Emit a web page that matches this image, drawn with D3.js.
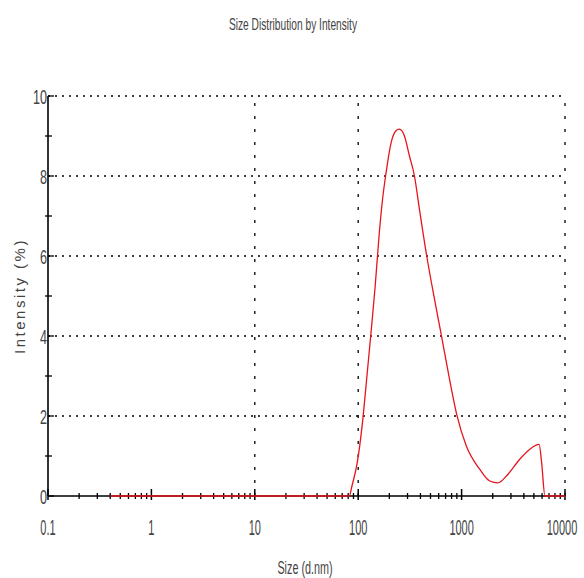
<!DOCTYPE html>
<html>
<head>
<meta charset="utf-8">
<script src="https://cdn.jsdelivr.net/npm/d3@7"></script>
<style>
  body { margin: 0; background: #fff; }
  text { font-family: "Liberation Sans", Arial, sans-serif; fill: #444; }
</style>
</head>
<body>
<script>
// size (d.nm) and intensity (%)
var sizes = [0.4, 82, 87, 98, 110, 119, 133, 146, 160, 172, 186, 208, 232, 250, 280, 313, 350, 391,
             460, 547, 635, 764, 900, 1111, 1496, 1872, 2250, 2715, 3656, 4573, 5623, 5940, 6400, 10000];
var intensity = [0, 0, 0.25, 0.84, 1.84, 2.75, 4.08, 5.25, 6.58, 7.42, 8.08, 8.83, 9.13, 9.17, 9.0, 8.5, 8.0, 7.17,
                 6.0, 4.92, 4.04, 2.92, 2.02, 1.25, 0.67, 0.375, 0.33, 0.5, 0.92, 1.17, 1.29, 0.84, 0, 0];

var xTicks = [0.1, 1, 10, 100, 1000, 10000];
var xTickLabels = ["0.1", "1", "10", "100", "1000", "10000"];
var xGrid = [10, 100, 10000];
var yTicks = [0, 2, 4, 6, 8, 10];
var yGrid = [2, 4, 6, 8, 10];
var yMinor = [1, 3, 5, 7, 9];

var width = 584, height = 578;

var svg = d3.select("body").append("svg")
    .attr("width", width)
    .attr("height", height);

var x = d3.scaleLog().domain([0.1, 10000]).range([48, 565]);
var y = d3.scaleLinear().domain([0, 10]).range([496, 96]);

// squeeze text horizontally, the original uses a very condensed face
function narrow(sel, f) {
  sel.each(function() {
    var w = this.getComputedTextLength();
    d3.select(this).attr("textLength", w * f).attr("lengthAdjust", "spacingAndGlyphs");
  });
}

// minor log ticks 2..9 of every decade
var xMinor = [];
[0.1, 1, 10, 100, 1000].forEach(function(d) {
  for (var k = 2; k <= 9; k++) xMinor.push(d * k);
});

// grid
svg.append("g").selectAll("line")
  .data(yGrid)
  .enter().append("line")
    .attr("x1", x(0.1)).attr("x2", x(10000))
    .attr("y1", function(d) { return y(d); })
    .attr("y2", function(d) { return y(d); })
    .attr("stroke", "#000")
    .attr("stroke-width", 1.3)
    .attr("stroke-dasharray", "2,5");

svg.append("g").selectAll("line")
  .data(xGrid)
  .enter().append("line")
    .attr("x1", function(d) { return x(d); })
    .attr("x2", function(d) { return x(d); })
    .attr("y1", y(0)).attr("y2", y(10))
    .attr("stroke", "#000")
    .attr("stroke-width", 1.3)
    .attr("stroke-dasharray", "3,10");

// axes lines
svg.append("line")
  .attr("x1", x(0.1)).attr("x2", x(0.1))
  .attr("y1", y(0)).attr("y2", y(10))
  .attr("stroke", "#000").attr("stroke-width", 1.6);
svg.append("line")
  .attr("x1", x(0.1)).attr("x2", x(10000))
  .attr("y1", y(0)).attr("y2", y(0))
  .attr("stroke", "#000").attr("stroke-width", 1.6);

// y ticks
svg.append("g").selectAll("line")
  .data(yMinor)
  .enter().append("line")
    .attr("x1", x(0.1) - 3).attr("x2", x(0.1) + 4)
    .attr("y1", function(d) { return y(d); })
    .attr("y2", function(d) { return y(d); })
    .attr("stroke", "#000").attr("stroke-width", 1.3);
svg.append("g").selectAll("line")
  .data(yTicks)
  .enter().append("line")
    .attr("x1", x(0.1)).attr("x2", x(0.1) + 6)
    .attr("y1", function(d) { return y(d); })
    .attr("y2", function(d) { return y(d); })
    .attr("stroke", "#000").attr("stroke-width", 1.3);

svg.append("g").selectAll("text")
  .data(yTicks)
  .enter().append("text")
    .attr("x", x(0.1) - 1)
    .attr("y", function(d) { return y(d) + 8; })
    .attr("text-anchor", "end")
    .style("font-size", "21px")
    .text(function(d) { return d; })
    .call(narrow, 0.6);

// x ticks
svg.append("g").selectAll("line")
  .data(xMinor)
  .enter().append("line")
    .attr("x1", function(d) { return x(d); })
    .attr("x2", function(d) { return x(d); })
    .attr("y1", y(0) - 3).attr("y2", y(0) + 3)
    .attr("stroke", "#000").attr("stroke-width", 1.3);
svg.append("g").selectAll("line")
  .data(xTicks)
  .enter().append("line")
    .attr("x1", function(d) { return x(d); })
    .attr("x2", function(d) { return x(d); })
    .attr("y1", y(0) - 7).attr("y2", y(0) + 4)
    .attr("stroke", "#000").attr("stroke-width", 1.5);

// x labels squeezed with a transform so the box is the drawn one
svg.append("g").selectAll("text")
  .data(xTicks)
  .enter().append("text")
    .attr("transform", function(d) { return "translate(" + Math.min(x(d), 562) + ",535) scale(0.5,1)"; })
    .attr("text-anchor", "middle")
    .style("font-size", "22px")
    .text(function(d, i) { return xTickLabels[i]; });

// curve
var pts = sizes.map(function(s, i) { return [s, intensity[i]]; });
var line = d3.line()
  .x(function(d) { return x(d[0]); })
  .y(function(d) { return y(d[1]); })
  .curve(d3.curveMonotoneX);

svg.append("path")
  .datum(pts)
  .attr("d", line)
  .attr("fill", "none")
  .attr("stroke", "#e8141c")
  .attr("stroke-width", 1.3);

// titles
svg.append("text")
  .attr("x", 293).attr("y", 30)
  .attr("text-anchor", "middle")
  .style("font-size", "17px")
  .text("Size Distribution by Intensity")
  .call(narrow, 0.6);

svg.append("text")
  .attr("x", 305).attr("y", 574)
  .attr("text-anchor", "middle")
  .style("font-size", "18px")
  .text("Size (d.nm)")
  .call(narrow, 0.6);

svg.append("text")
  .attr("transform", "translate(25,296) rotate(-90)")
  .attr("text-anchor", "middle")
  .style("font-size", "15px")
  .style("letter-spacing", "2.5px")
  .text("Intensity (%)");
</script>
</body>
</html>
